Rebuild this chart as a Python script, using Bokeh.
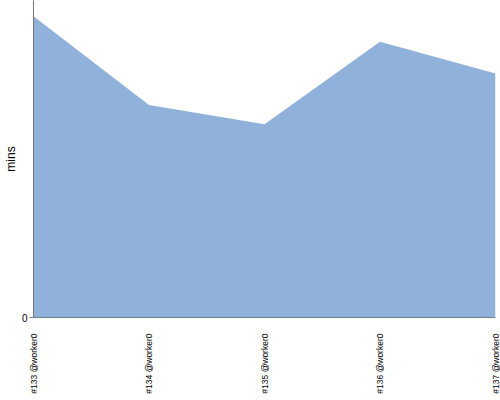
import math
from bokeh.plotting import figure
from bokeh.models import FixedTicker, Range1d
from bokeh.embed import file_html
from bokeh.resources import INLINE

categories = ["#133 @worker0", "#134 @worker0", "#135 @worker0", "#136 @worker0", "#137 @worker0"]
minutes = [9.5, 6.7, 6.1, 8.7, 7.7]

xs = list(range(len(categories)))

p = figure(width=500, height=400, output_backend="svg", toolbar_location=None,
           x_range=Range1d(0, len(categories) - 1), y_range=Range1d(0, 10.0),
           min_border_left=33, min_border_right=5, min_border_top=0, min_border_bottom=83)
p.outline_line_color = None
p.grid.visible = False

p.varea(x=xs, y1=[0] * len(xs), y2=minutes, fill_color="#8FB1DA", fill_alpha=1.0)

p.xaxis.ticker = FixedTicker(ticks=xs)
p.xaxis.major_label_overrides = {i: c for i, c in enumerate(categories)}
p.xaxis.major_label_orientation = math.pi / 2
p.xaxis.major_tick_out = 0
p.xaxis.major_tick_in = 0
p.xaxis.minor_tick_line_color = None
p.xaxis.major_label_standoff = 16
p.xaxis.major_label_text_font = "Liberation Sans"
p.xaxis.major_label_text_font_size = "8.5px"
p.xaxis.major_label_text_color = "#000000"
p.xaxis.axis_line_color = "#6F7F95"

p.yaxis.ticker = FixedTicker(ticks=[0])
p.yaxis.minor_tick_line_color = None
p.yaxis.major_tick_out = 4
p.yaxis.major_tick_in = 0
p.yaxis.major_tick_line_color = "#777777"
p.yaxis.axis_line_color = "#777777"
p.yaxis.major_label_text_font = "Liberation Sans"
p.yaxis.major_label_text_font_size = "10px"
p.yaxis.major_label_text_color = "#000000"
p.yaxis.major_label_standoff = 2
p.yaxis.axis_label = "mins"
p.yaxis.axis_label_text_font = "Liberation Sans"
p.yaxis.axis_label_text_font_style = "normal"
p.yaxis.axis_label_text_font_size = "12px"
p.yaxis.axis_label_text_color = "#000000"
p.yaxis.axis_label_standoff = 1

open("out.html", "w").write(file_html(p, INLINE))
